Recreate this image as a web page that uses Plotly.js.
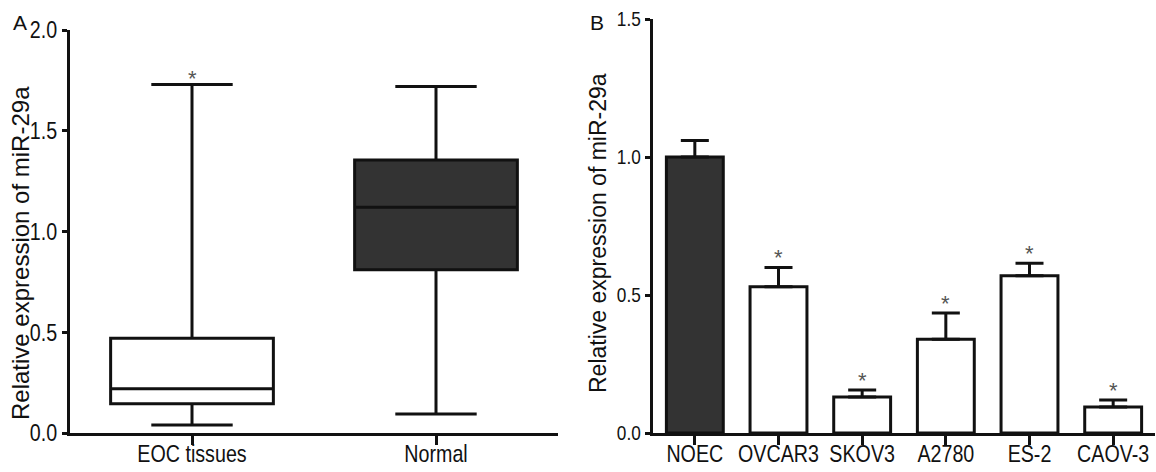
<!DOCTYPE html>
<html>
<head>
<meta charset="utf-8">
<script src="https://cdn.plot.ly/plotly-3.0.1.min.js"></script>
<style>html,body{margin:0;padding:0;background:#fff;}#chart{width:1156px;height:472px;}</style>
</head>
<body>
<div id="chart"></div>
<script>
// Panel A: box plot (min-max whiskers)
const groupsA = ["EOC tissues", "Normal"];
const minA = [0.04, 0.094];
const q1A = [0.145, 0.81];
const medianA = [0.22, 1.12];
const q3A = [0.47, 1.355];
const maxA = [1.73, 1.72];
const fillA = ["#ffffff", "#333333"];
const starsA = ["*", ""];

// Panel B: bar chart with +SD error bars
const cellsB = ["NOEC", "OVCAR3", "SKOV3", "A2780", "ES-2", "CAOV-3"];
const valuesB = [1.0, 0.53, 0.13, 0.34, 0.57, 0.094];
const errorsB = [0.06, 0.07, 0.026, 0.095, 0.045, 0.026];
const colorsB = ["#333333", "#ffffff", "#ffffff", "#ffffff", "#ffffff", "#ffffff"];
const starsB = ["", "*", "*", "*", "*", "*"];

const yTitle = "Relative expression of miR-29a";

const tickFont = {family: "Liberation Sans, Arial", size: 24, color: "#111"};
const titleFont = {family: "Liberation Sans, Arial", size: 24, color: "#111"};
const W = 1156, H = 472;

const traces = [];
groupsA.forEach((g, i) => {
  traces.push({
    type: "box", xaxis: "x", yaxis: "y",
    x: [g], q1: [q1A[i]], median: [medianA[i]], q3: [q3A[i]],
    lowerfence: [minA[i]], upperfence: [maxA[i]],
    width: 0.667, whiskerwidth: 0.5,
    fillcolor: fillA[i], line: {color: "#111", width: 3},
    boxpoints: false, hoverinfo: "skip", showlegend: false
  });
});
traces.push({
  type: "bar", xaxis: "x2", yaxis: "y2",
  x: cellsB, y: valuesB, width: 0.68,
  marker: {color: colorsB, line: {color: "#111", width: 3}},
  error_y: {type: "data", symmetric: false, array: errorsB, arrayminus: errorsB.map(() => 0),
            color: "#111", thickness: 3, width: 14},
  showlegend: false, hoverinfo: "skip"
});

const starFont = {family: "Liberation Sans", size: 22, color: "#555"};
const annotations = [];
groupsA.forEach((g, i) => {
  if (starsA[i]) annotations.push({xref: "x", yref: "y", x: g, y: maxA[i], text: starsA[i],
    showarrow: false, yanchor: "bottom", yshift: -9, font: starFont});
});
cellsB.forEach((c, i) => {
  if (starsB[i]) annotations.push({xref: "x2", yref: "y2", x: c, y: valuesB[i] + errorsB[i], text: starsB[i],
    showarrow: false, yanchor: "bottom", yshift: -5, font: starFont});
});
annotations.push({xref: "paper", yref: "paper", x: 11 / W, y: 1 - 9 / H, xanchor: "left", yanchor: "top",
  text: "A", showarrow: false, font: {family: "Liberation Sans", size: 21, color: "#111"}});
annotations.push({xref: "paper", yref: "paper", x: 588 / W, y: 1 - 9 / H, xanchor: "left", yanchor: "top",
  text: "B", showarrow: false, font: {family: "Liberation Sans", size: 21, color: "#111"}});
// y-axis titles (placed precisely as in the reference)
annotations.push({xref: "paper", yref: "paper", x: 20 / W, y: 1 - 253 / H, xanchor: "center", yanchor: "middle",
  textangle: -90, text: yTitle, showarrow: false, font: titleFont});
annotations.push({xref: "paper", yref: "paper", x: 598 / W, y: 1 - 233 / H, xanchor: "center", yanchor: "middle",
  textangle: -90, text: yTitle, showarrow: false, font: Object.assign({}, titleFont, {size: 23})});

const axisCommon = {showgrid: false, zeroline: false, showline: true, linecolor: "#111", linewidth: 3,
  ticks: "outside", tickcolor: "#111", tickwidth: 3, tickfont: tickFont, automargin: false, fixedrange: true};

const layout = {
  width: W, height: H,
  margin: {l: 0, r: 0, t: 0, b: 0},
  paper_bgcolor: "#ffffff", plot_bgcolor: "#ffffff",
  showlegend: false,
  xaxis: Object.assign({}, axisCommon, {domain: [70 / W, 558 / W], anchor: "y", ticklen: 9,
    range: [-0.5, 1.5], type: "category", tickangle: 0, ticklabelstandoff: -12}),
  yaxis: Object.assign({}, axisCommon, {domain: [39 / H, 442 / H], anchor: "x", ticklen: 5,
    range: [0, 2.0], tickvals: [0, 0.5, 1.0, 1.5, 2.0], ticktext: ["0.0", "0.5", "1.0", "1.5", "2.0"]}),
  xaxis2: Object.assign({}, axisCommon, {domain: [653 / W, 1155 / W], anchor: "y2", ticklen: 9,
    range: [-0.5, 5.5], type: "category", tickangle: 0, ticklabelstandoff: -12}),
  yaxis2: Object.assign({}, axisCommon, {domain: [39 / H, 453 / H], anchor: "x2", ticklen: 5,
    range: [0, 1.5], tickvals: [0, 0.5, 1.0, 1.5], ticktext: ["0.0", "0.5", "1.0", "1.5"],
    tickfont: Object.assign({}, tickFont, {size: 21})}),
  annotations: annotations
};

Plotly.newPlot("chart", traces, layout, {staticPlot: true, displayModeBar: false}).then(gd => {
  // the reference uses a condensed sans face: narrow the tick labels horizontally about their anchor
  gd.querySelectorAll(".xtick text, .x2tick text, .ytick text, .y2tick text").forEach(t => {
    const x = parseFloat(t.getAttribute("x") || "0");
    const tr = t.getAttribute("transform") || "";
    t.setAttribute("transform", tr + " translate(" + x + ",0) scale(0.82,1) translate(" + (-x) + ",0)");
  });
});
</script>
</body>
</html>
